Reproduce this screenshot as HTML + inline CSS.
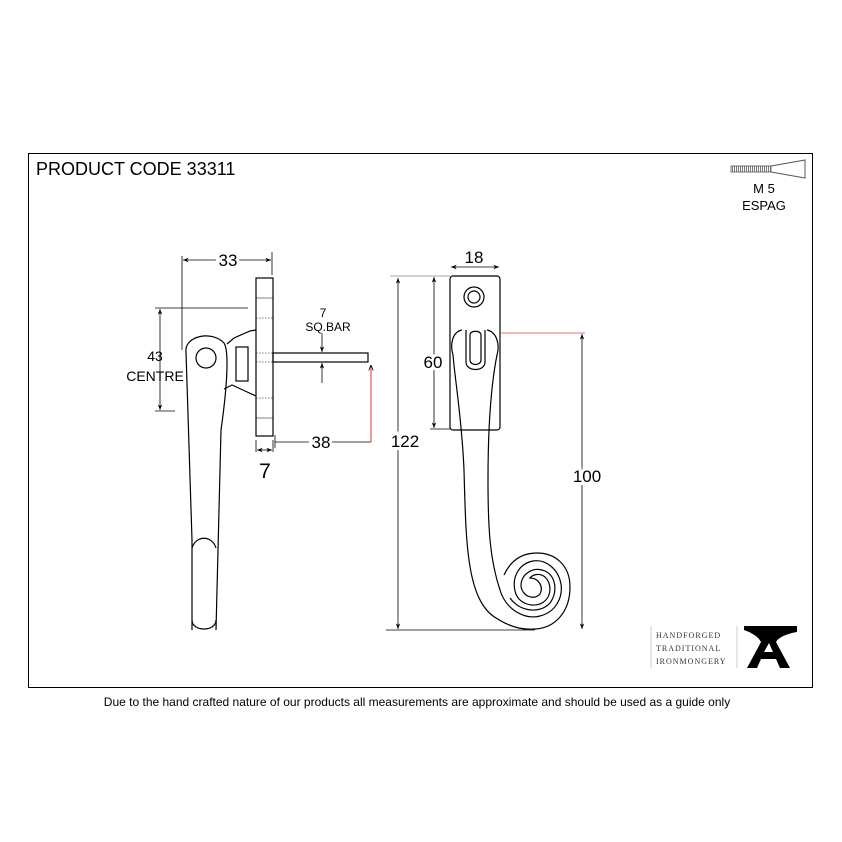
<!DOCTYPE html>
<html><head><meta charset="utf-8"><style>
html,body{margin:0;padding:0;background:#fff;}
svg{display:block;font-family:"Liberation Sans",sans-serif;}
</style></head><body>
<svg width="842" height="842" viewBox="0 0 842 842" xmlns="http://www.w3.org/2000/svg">
<defs>
<marker id="a" viewBox="0 0 10 10" refX="10" refY="5" markerWidth="7" markerHeight="7" orient="auto-start-reverse"><path d="M0,1 L10,5 L0,9 L3,5 Z" fill="#000"/></marker>
<marker id="r" viewBox="0 0 10 10" refX="10" refY="5" markerWidth="7" markerHeight="7" orient="auto"><path d="M0,1 L10,5 L0,9" fill="none" stroke="#000" stroke-width="1.5"/></marker>
<pattern id="h" width="2" height="6" patternUnits="userSpaceOnUse"><rect width="1" height="6" fill="#777"/></pattern>
</defs>
<rect x="28.5" y="153.5" width="784" height="534" fill="none" stroke="#000" stroke-width="1"/>
<text x="36" y="175" font-size="18">PRODUCT CODE 33311</text>
<!-- screw -->
<rect x="731" y="166" width="40" height="6" fill="url(#h)" stroke="#555" stroke-width="0.8"/>
<path d="M771,166 L805,160 L805,178 L771,172" fill="none" stroke="#555" stroke-width="1"/>
<text x="764" y="193" font-size="13" text-anchor="middle">M 5</text>
<text x="764" y="210" font-size="13" text-anchor="middle">ESPAG</text>

<g fill="none" stroke="#000" stroke-width="1.2">
<!-- left view -->
<rect x="256" y="278" width="17" height="158" fill="#fff"/>
<g stroke-width="0.6"><line x1="256" y1="298" x2="273" y2="298"/><line x1="256" y1="318" x2="273" y2="318" stroke-dasharray="1.5 1.5"/><line x1="256" y1="362" x2="273" y2="362" stroke-dasharray="1.5 1.5"/><line x1="256" y1="398" x2="273" y2="398" stroke-dasharray="1.5 1.5"/><line x1="256" y1="418" x2="273" y2="418"/><line x1="256" y1="353" x2="273" y2="353" stroke-dasharray="1.5 1.5"/></g>
<rect x="273" y="353" width="95" height="9"/>
<path d="M192,630 L192,540 L186,352 C184,336 212,330 224,343 C230,352 226,395 221,430 L216,630"/>
<path d="M227,344 L234,338 L250,331 L256,330"/>
<path d="M224,389 L232,385 L245,391 L256,396"/>
<path d="M192,548 C196,535 212,535 216,548"/>
<path d="M192,620 C192,632 216,632 216,620"/>
<circle cx="206" cy="358" r="10"/>
<rect x="236" y="347" width="12" height="34"/>
<!-- right view -->
<rect x="450" y="276" width="50" height="154" rx="3" fill="#fff"/>
<circle cx="474" cy="297" r="10"/><circle cx="474" cy="297" r="6"/>
<path d="M462,330 C452,332 450,345 453,355 C455,380 462,420 464,470 C466,540 466,600 496,618 C510,627 522,630 535,629 C555,628 570,612 570,587 C570,565 555,553 537,553 C520,553 510,562 504,575"/>
<path d="M487,330 C497,332 500,345 497,355 C492,380 488,420 488,480 C488,530 490,560 500,590 C506,610 525,620 540,616 C556,612 563,597 561,584 C558,568 545,559 533,561 C518,564 512,578 515,591 C518,604 533,608 542,603 C552,597 552,584 545,577 C540,573 533,574 530,578 C538,578 544,586 540,594 C534,601 522,596 521,586 C521,574 533,566 545,571 C556,576 558,592 550,603 C540,614 520,612 510,598"/>
<path d="M466,330 L466,362 C466,372 485,372 485,362 L485,330"/>
<path d="M470,335 L470,360 C470,366 481,366 481,360 L481,335 C481,330 470,330 470,335"/>
</g>
<!-- dimensions -->
<g fill="none" stroke="#000" stroke-width="0.8">
<line x1="182" y1="256" x2="182" y2="350"/><line x1="272" y1="252" x2="272" y2="275"/>
<line x1="183" y1="260" x2="271" y2="260" marker-start="url(#a)" marker-end="url(#a)"/>
<line x1="155" y1="308" x2="248" y2="308"/><line x1="155" y1="411" x2="175" y2="411"/>
<line x1="160" y1="309" x2="160" y2="410" marker-start="url(#a)" marker-end="url(#a)"/>
<line x1="322" y1="333" x2="322" y2="352" marker-end="url(#a)"/>
<line x1="322" y1="383" x2="322" y2="363" marker-end="url(#a)"/>
<line x1="275" y1="435" x2="275" y2="448"/><line x1="275" y1="442" x2="371" y2="442"/>
<line x1="371" y1="442" x2="371" y2="365" stroke="#c00" marker-end="url(#r)"/>
<line x1="256" y1="440" x2="256" y2="452"/><line x1="273" y1="440" x2="273" y2="452"/>
<line x1="257" y1="450" x2="272" y2="450" marker-start="url(#a)" marker-end="url(#a)"/>
<line x1="451" y1="267" x2="499" y2="267" marker-start="url(#a)" marker-end="url(#a)"/>
<line x1="390" y1="276" x2="450" y2="276" stroke="#888"/>
<line x1="386" y1="630" x2="535" y2="630"/>
<line x1="398" y1="278" x2="398" y2="629" marker-start="url(#a)" marker-end="url(#a)"/>
<line x1="430" y1="429" x2="450" y2="429"/>
<line x1="434" y1="277" x2="434" y2="428" marker-start="url(#a)" marker-end="url(#a)"/>
<line x1="500" y1="333" x2="585" y2="333" stroke="#d44"/>
<line x1="582" y1="334" x2="582" y2="629" marker-start="url(#a)" marker-end="url(#a)"/>
</g>
<g font-size="17" text-anchor="middle">
<text x="228" y="266" fill="#000" stroke="#fff" stroke-width="6" paint-order="stroke">33</text>
<text x="155" y="361" font-size="14">43</text>
<text x="155" y="381" font-size="14">CENTRE</text>
<text x="323" y="317" font-size="12">7</text>
<text x="328" y="331" font-size="12">SQ.BAR</text>
<text x="321" y="448" stroke="#fff" stroke-width="6" paint-order="stroke">38</text>
<text x="265" y="478" font-size="21">7</text>
<text x="474" y="263">18</text>
<text x="405" y="447" stroke="#fff" stroke-width="6" paint-order="stroke">122</text>
<text x="433" y="368" stroke="#fff" stroke-width="6" paint-order="stroke">60</text>
<text x="587" y="482" stroke="#fff" stroke-width="6" paint-order="stroke">100</text>
</g>
<!-- logo -->
<line x1="651" y1="626" x2="651" y2="668" stroke="#ccc"/>
<line x1="737" y1="626" x2="737" y2="668" stroke="#ccc"/>
<g font-family="Liberation Serif,serif" font-size="8" fill="#333" letter-spacing="1">
<text x="656" y="638">HANDFORGED</text><text x="656" y="651">TRADITIONAL</text><text x="656" y="664">IRONMONGERY</text>
</g>
<path d="M744,626 L797,626 L797,632 C785,634 778,638 776,642 L790,668 L780,668 L776,659 L761,659 L757,668 L747,668 L761,642 C758,636 750,632 744,630 Z M764,652 L773,652 L769,643 Z" fill="#000" fill-rule="evenodd"/>
<text x="417" y="706" font-size="12" text-anchor="middle">Due to the hand crafted nature of our products all measurements are approximate and should be used as a guide only</text>
</svg>
</body></html>
